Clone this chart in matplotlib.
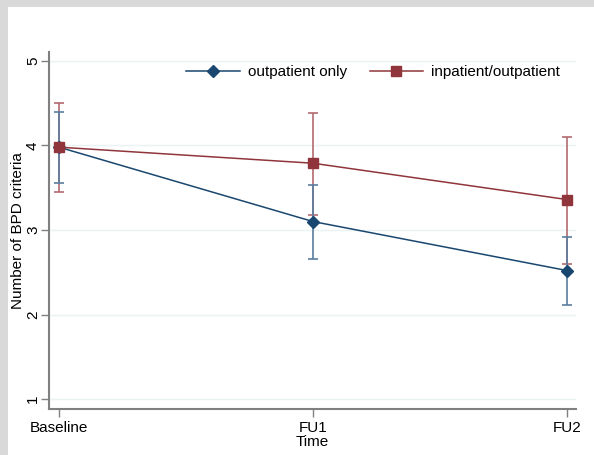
"""Mean number of BPD criteria over time by treatment group."""

import matplotlib.pyplot as plt
from matplotlib.patches import Rectangle

plt.rcParams["font.family"] = ["Liberation Sans", "DejaVu Sans"]

time_points = ["Baseline", "FU1", "FU2"]
y_ticks = [1, 2, 3, 4, 5]

outpatient_mean = [3.98, 3.10, 2.52]
outpatient_low = [3.56, 2.66, 2.11]
outpatient_high = [4.40, 3.53, 2.92]

inpatient_mean = [3.98, 3.79, 3.36]
inpatient_low = [3.45, 3.18, 2.60]
inpatient_high = [4.50, 4.39, 4.10]

BLUE = "#1a476f"
RED = "#90353b"
BLUE_BAR = "#5a7ea0"
RED_BAR = "#b36a70"
SPINE = "#808080"

fig = plt.figure(figsize=(5.94, 4.55), dpi=100, facecolor="#d9d9d9")
fig.patches.append(
    Rectangle((8 / 594, 0), 1 - 8 / 594, 1 - 7 / 455,
              transform=fig.transFigure, facecolor="white", edgecolor="none", zorder=-10)
)
ax = fig.add_axes((49 / 594, 1 - 409 / 455, 527 / 594, 357 / 455))
ax.set_facecolor("white")

x = list(range(len(time_points)))

for ytick in y_ticks:
    ax.axhline(ytick, color="#eaf2f3", linewidth=1.0, zorder=1)

ax.errorbar(x, inpatient_mean,
            yerr=[[m - lo for m, lo in zip(inpatient_mean, inpatient_low)],
                  [hi - m for m, hi in zip(inpatient_mean, inpatient_high)]],
            fmt="none", ecolor=RED_BAR, elinewidth=1.2, capsize=3.5, capthick=1.2, zorder=2)
ax.errorbar(x, outpatient_mean,
            yerr=[[m - lo for m, lo in zip(outpatient_mean, outpatient_low)],
                  [hi - m for m, hi in zip(outpatient_mean, outpatient_high)]],
            fmt="none", ecolor=BLUE_BAR, elinewidth=1.2, capsize=3.5, capthick=1.2, zorder=3)

ax.plot(x, outpatient_mean, color=BLUE, linewidth=1.1, marker="D", markersize=6.5,
        label="outpatient only", zorder=4)
ax.plot(x, inpatient_mean, color=RED, linewidth=1.1, marker="s", markersize=6.5,
        label="inpatient/outpatient", zorder=5)

ax.set_xlim(-0.039, 2.035)
ax.set_ylim(0.882, 5.106)
ax.set_xticks(x)
ax.set_xticklabels(time_points)
ax.set_yticks(y_ticks)
ax.set_yticklabels([str(v) for v in y_ticks], rotation=90, va="center")
ax.tick_params(axis="both", colors=SPINE, labelcolor="black", labelsize=11,
               length=5.5, width=1.0)
ax.tick_params(axis="x", pad=3)
ax.tick_params(axis="y", pad=1)

for side in ("top", "right"):
    ax.spines[side].set_visible(False)
for side in ("left", "bottom"):
    ax.spines[side].set_color(SPINE)
    ax.spines[side].set_linewidth(1.5)

ax.set_xlabel("Time", fontsize=11, labelpad=0)
ax.set_ylabel("Number of BPD criteria", fontsize=11, labelpad=1)

ax.legend(loc="center", bbox_to_anchor=(373 / 594, 1 - 72 / 455),
          bbox_transform=fig.transFigure, ncol=2, frameon=False, fontsize=11,
          handlelength=3.5, columnspacing=1.5, handletextpad=0.5)

fig.savefig("out.png", dpi=100, facecolor=fig.get_facecolor())
